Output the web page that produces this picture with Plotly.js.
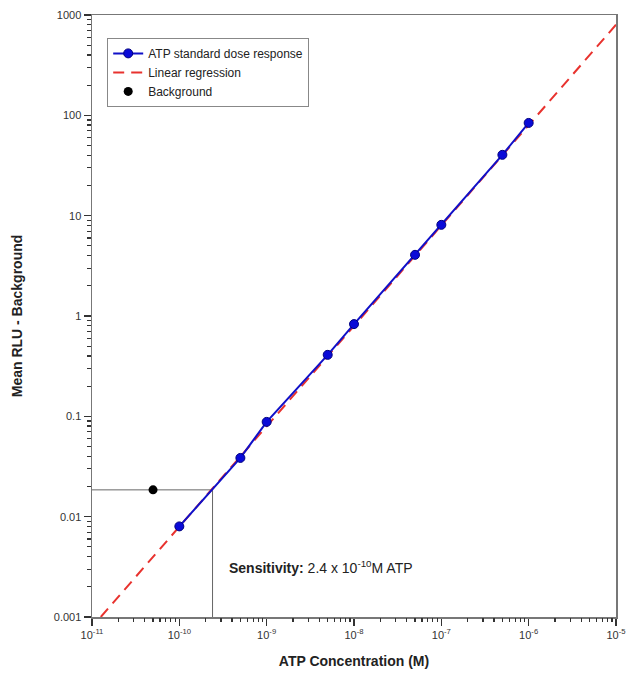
<!DOCTYPE html>
<html>
<head>
<meta charset="utf-8">
<script src="https://cdn.plot.ly/plotly-3.0.1.min.js"></script>
<style>html,body{margin:0;padding:0;background:#fff;}#chart{width:631px;height:681px;}</style>
</head>
<body>
<div id="chart"></div>
<script>
// ATP standard dose response
const atpConc = [1e-10, 5e-10, 1e-9, 5e-9, 1e-8, 5e-8, 1e-7, 5e-7, 1e-6];
const atpRLU  = [0.008, 0.0385, 0.088, 0.41, 0.83, 4.07, 8.1, 40.4, 84];
// Linear regression (end points of fitted line)
const regConc = [1.26e-11, 1e-5];
const regRLU  = [0.001, 800];
// Background
const bgConc = [5e-11];
const bgRLU  = [0.0185];
// Sensitivity guide lines
const sensConc = 2.4e-10;
const sensRLU  = 0.0185;
const xTickVals = [1e-11, 1e-10, 1e-9, 1e-8, 1e-7, 1e-6, 1e-5];
const xTickText = ['10<sup>-11</sup>','10<sup>-10</sup>','10<sup>-9</sup>','10<sup>-8</sup>','10<sup>-7</sup>','10<sup>-6</sup>','10<sup>-5</sup>'];
const yTickVals = [0.001, 0.01, 0.1, 1, 10, 100, 1000];
const yTickText = ['0.001','0.01','0.1','1','10','100','1000'];

// minor tick positions (2..9 within each decade)
function minorTicks(decades) {
  const out = [];
  for (let i = 0; i < decades.length - 1; i++) {
    for (let m = 2; m <= 9; m++) out.push(decades[i] * m);
  }
  return out;
}

const font = 'Liberation Sans, Arial, sans-serif';
const traces = [
  {x: [xTickVals[0], sensConc], y: [sensRLU, sensRLU], mode: 'lines', line: {color: '#666', width: 1}, showlegend: false, hoverinfo: 'skip'},
  {x: [sensConc, sensConc], y: [yTickVals[0], sensRLU], mode: 'lines', line: {color: '#666', width: 1}, showlegend: false, hoverinfo: 'skip'},
  {x: regConc, y: regRLU, mode: 'lines', name: 'Linear regression', legendrank: 2,
   line: {color: '#e8322e', width: 2, dash: '11px,7px'}},
  {x: atpConc, y: atpRLU, mode: 'lines+markers', name: 'ATP standard dose response', legendrank: 1,
   line: {color: '#1010c8', width: 2},
   marker: {color: '#0a0ad8', size: 9, line: {color: '#000080', width: 1}}},
  {x: bgConc, y: bgRLU, mode: 'markers', name: 'Background', legendrank: 3,
   marker: {color: '#000', size: 9}},
  // invisible carrier for the minor-tick axes
  {x: bgConc, y: bgRLU, xaxis: 'x2', yaxis: 'y2', mode: 'markers', marker: {opacity: 0}, showlegend: false, hoverinfo: 'skip'}
];

const axisCommon = {
  type: 'log', showgrid: false, zeroline: false,
  ticks: 'outside', tickcolor: '#333', tickwidth: 1.2,
  tickfont: {family: font, size: 11, color: '#333'},
  tickmode: 'array'
};

const layout = {
  width: 631, height: 681,
  margin: {l: 92, r: 15, t: 15, b: 64},
  paper_bgcolor: '#fff', plot_bgcolor: '#fff',
  showlegend: true,
  legend: {x: 0.029, y: 0.962, xanchor: 'left', yanchor: 'top',
    bgcolor: '#fff', bordercolor: '#888', borderwidth: 1,
    font: {family: font, size: 12, color: '#222'}, tracegroupgap: 0},
  xaxis: Object.assign({}, axisCommon, {
    range: [-11, -5], tickvals: xTickVals, ticktext: xTickText, ticklen: 7,
    showline: true, linecolor: '#777', linewidth: 1.5, mirror: true,
    title: {text: '<b>ATP Concentration (M)</b>', font: {family: font, size: 14, color: '#222'}, standoff: 16}
  }),
  yaxis: Object.assign({}, axisCommon, {
    range: [-3, 3], tickvals: yTickVals, ticktext: yTickText, ticklen: 7,
    showline: true, linecolor: '#777', linewidth: 1.5, mirror: true,
    title: {text: '<b>Mean RLU - Background</b>', font: {family: font, size: 14, color: '#222'}, standoff: 28}
  }),
  xaxis2: Object.assign({}, axisCommon, {
    range: [-11, -5], tickvals: minorTicks(xTickVals), ticklen: 4,
    overlaying: 'x', side: 'bottom', anchor: 'y', showticklabels: false, showline: false
  }),
  yaxis2: Object.assign({}, axisCommon, {
    range: [-3, 3], tickvals: minorTicks(yTickVals), ticklen: 4,
    overlaying: 'y', side: 'left', anchor: 'x', showticklabels: false, showline: false
  }),
  annotations: [{
    xref: 'paper', yref: 'paper', x: 0.258, y: 0.083, xanchor: 'left', yanchor: 'middle',
    showarrow: false,
    text: '<b>Sensitivity:</b> 2.4 x 10<sup>-10</sup>M ATP',
    font: {family: font, size: 14, color: '#222'}
  }]
};

Plotly.newPlot('chart', traces, layout, {displayModeBar: false, staticPlot: true});
</script>
</body>
</html>
